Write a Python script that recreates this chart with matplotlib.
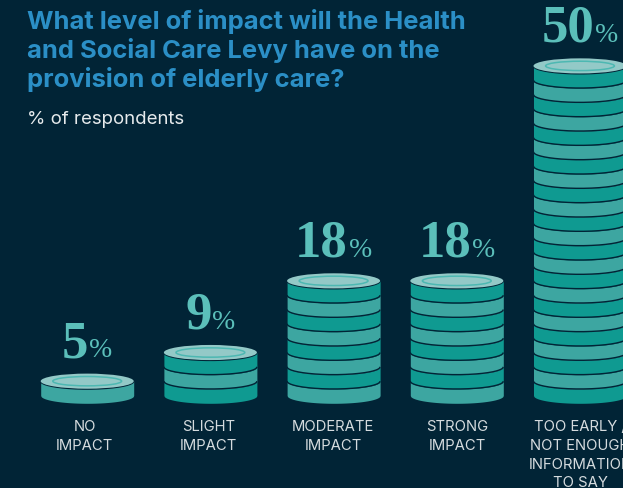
import numpy as np
import matplotlib
matplotlib.use("Agg")
import matplotlib.pyplot as plt
from matplotlib.patches import Ellipse

categories = [
    ["NO", "IMPACT"],
    ["SLIGHT", "IMPACT"],
    ["MODERATE", "IMPACT"],
    ["STRONG", "IMPACT"],
    ["TOO EARLY /", "NOT ENOUGH", "INFORMATION", "TO SAY"],
]
percentages = [5, 9, 18, 18, 50]
coin_counts = [1, 3, 8, 8, 23]
title_lines = [
    "What level of impact will the Health",
    "and Social Care Levy have on the",
    "provision of elderly care?",
]
subtitle = "% of respondents"

BG = "#012436"
COIN_DARK = "#0F9A91"
COIN_LIGHT = "#3DA6A1"
COIN_TOP = "#93C9C7"
COIN_RING = "#4DB8B2"
VALUE_COLOR = "#5BBFBA"
TITLE_COLOR = "#2B8FC6"
LABEL_COLOR = "#D5DBDE"

W, H = 623, 489
SLOT_PX = 123.2
COIN_PX = 14.33
FIRST_X_PX = 87.2
BASE_Y_PX = 396.5
RX_PX, RY_PX = 46.5, 7.8
LABEL_X_PX = [84.7, 208.5, 333, 457, 580.5]

fig = plt.figure(figsize=(W / 100, H / 100), dpi=100, facecolor=BG)
ax = fig.add_axes([0, 0, 1, 1], facecolor=BG)
ax.set_xlim(-FIRST_X_PX / SLOT_PX, (W - FIRST_X_PX) / SLOT_PX)
ax.set_ylim(-(H - BASE_Y_PX) / COIN_PX, BASE_Y_PX / COIN_PX)
ax.axis("off")

rx = RX_PX / SLOT_PX
ry = RY_PX / COIN_PX
t = np.linspace(-1, 1, 201)


def lower_arc(level):
    return level - ry * np.sqrt(1 - t ** 2)


def stack(pos, count):
    xs = pos + rx * t
    for k in range(count):
        # Tall stacks end on a dark coin; a lone coin stays light.
        dark = (count - 1 - k) % 2 == 0 and count > 1
        color = COIN_DARK if dark else COIN_LIGHT
        top_edge = lower_arc(k + 1) if k < count - 1 else np.full_like(t, k + 1.0)
        ax.fill_between(xs, lower_arc(k), top_edge, color=color, lw=0, zorder=2 + k)
        if k > 0:
            ax.plot(xs, lower_arc(k), color=BG, lw=1.0, zorder=2 + k + 0.5,
                    solid_capstyle="butt")
    z = 2 + count
    ax.plot(xs, lower_arc(count), color=BG, lw=1.2, zorder=z, solid_capstyle="butt")
    ax.add_patch(Ellipse((pos, count), 2 * rx, 2 * ry * 0.97, fc=COIN_TOP, ec="none", zorder=z + 1))
    ax.add_patch(Ellipse((pos, count), 2 * rx * 0.74, 2 * ry * 0.60, fc=COIN_TOP,
                         ec=COIN_RING, lw=1.1, zorder=z + 2))


renderer = fig.canvas.get_renderer()
PX = 0.72  # points per pixel at this resolution
RISE = 25 * PX

for i, (label, pct, n) in enumerate(zip(categories, percentages, coin_counts)):
    stack(i, n)

    # Large serif figure with a smaller percent sign, centred as one group.
    num = ax.annotate(str(pct), (i, n), xytext=(0, RISE), textcoords="offset points",
                      ha="left", va="baseline", fontsize=38, family="Liberation Serif",
                      weight="bold", color=VALUE_COLOR)
    sign = ax.annotate("%", (i, n), xytext=(0, RISE), textcoords="offset points",
                       ha="left", va="baseline", fontsize=20, family="Liberation Serif",
                       color=VALUE_COLOR)
    w_num = num.get_window_extent(renderer).width
    w_sign = sign.get_window_extent(renderer).width
    start = -(w_num + 1 + w_sign) / 2
    num.set_position((start * PX, RISE))
    sign.set_position(((start + w_num + 1) * PX, RISE))

    # Category label, one line per row below the stack.
    x = (LABEL_X_PX[i] - FIRST_X_PX) / SLOT_PX
    for j, line in enumerate(label):
        y = (BASE_Y_PX - (427 + 18.8 * j)) / COIN_PX
        ax.text(x, y, line, ha="center", va="center", fontsize=10.7, family="Inter",
                color=LABEL_COLOR, clip_on=False)

for line, y_px in zip(title_lines, [21, 50.5, 80]):
    fig.text(27 / W, 1 - y_px / H, line, ha="left", va="center", fontsize=18.4,
             family="Inter", weight="bold", color=TITLE_COLOR)

fig.text(27 / W, 1 - 120 / H, subtitle, ha="left", va="center", fontsize=13.4,
         family="Inter", color="#E6EAEC")

fig.savefig("out.png", dpi=100, facecolor=BG)
